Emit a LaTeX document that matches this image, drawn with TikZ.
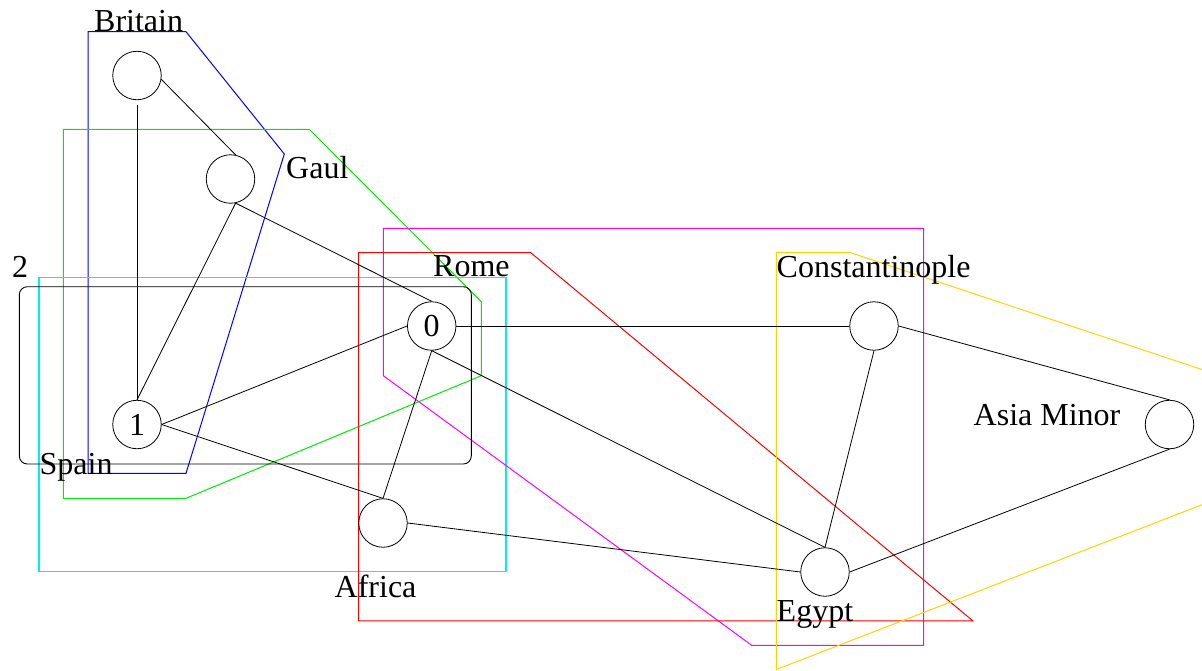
\documentclass[tikz,border=0pt]{standalone}
\usepackage{fontspec}
\setmainfont{Liberation Serif}
\definecolor{hgold}{RGB}{255,210,0}
\definecolor{hgreen}{RGB}{0,235,0}
\definecolor{hcyan}{RGB}{0,240,240}
\definecolor{hblue}{RGB}{0,0,255}
\definecolor{hred}{RGB}{255,0,0}
\definecolor{hmagenta}{RGB}{255,0,255}
\begin{document}
\begin{tikzpicture}[x=1pt,y=-1pt,
  city/.style={circle,draw,line width=0.8pt,minimum size=48.5pt,inner sep=0pt,font=\fontsize{32}{36}\selectfont},
  lbl/.style={inner sep=0pt,anchor=base west,font=\fontsize{32}{36}\selectfont},
  edge/.style={line width=0.8pt},
  hull/.style={line width=1pt}]
\useasboundingbox (0,0) rectangle (1202,670);
\clip (0,0) rectangle (1202,670);
% cluster hulls
\draw[hull,hblue] (88,31.7) -- (186,31.7) -- (284.3,154) -- (186,473.3) -- (88,473.3) -- cycle;
\draw[hull,hgreen] (63.3,129.3) -- (309.3,129.3) -- (481.3,301.7) -- (481.3,375.7) -- (186,498.3) -- (63.3,498.3) -- cycle;
\draw[hull,hcyan,line width=1.4pt] (39,277.3) rectangle (506,571.7);
\draw[hull,hmagenta] (383.3,228.3) -- (923.6,228.3) -- (923.6,645.3) -- (751.7,645.3) -- (383.3,375.7) -- cycle;
\draw[hull,hred] (358.7,252.7) -- (530.5,252.5) -- (972.8,620.8) -- (358.7,620.8) -- cycle;
\draw[hull,hgold] (776.3,252.3) -- (849.3,252.3) -- (1390,432) -- (776.3,669.5) -- cycle;
\draw[line width=0.9pt,rounded corners=8pt] (19.3,286.7) rectangle (471.3,464);
% nodes
\node[city] (britain) at (137,75.5) {};
\node[city] (gaul) at (230.5,179) {};
\node[city] (rome) at (431.7,326) {0};
\node[city] (spain) at (137,424.5) {1};
\node[city] (africa) at (383,523) {};
\node[city] (const) at (874,326) {};
\node[city] (egypt) at (825,572) {};
\node[city] (asia) at (1169.5,424.5) {};
% labels
\node[lbl] (lbritain) at (94,31) {Britain};
\node[lbl] (lgaul) at (286,178) {Gaul};
\node[lbl] (lrome) at (433,276) {Rome};
\node[lbl] (lcluster) at (12,277) {2};
\node[lbl] (lspain) at (39.5,474) {Spain};
\node[lbl] (lafrica) at (334.5,597) {Africa};
\node[lbl] (lconst) at (776.5,277) {Constantinople};
\node[lbl] (lasia) at (973.5,425) {Asia Minor};
\node[lbl] (legypt) at (776.5,621) {Egypt};
% edges
\draw[edge] (britain.-9) -- (gaul.78);
\draw[edge,shorten <=5pt] (britain.south) -- (spain.north);
\draw[edge] (gaul.-78) -- (spain.north);
\draw[edge] (gaul.-78) -- (rome.north);
\draw[edge] (rome.west) -- (spain.east);
\draw[edge] (spain.east) -- (africa.north);
\draw[edge] (rome.south) -- (africa.north);
\draw[edge] (rome.east) -- (const.west);
\draw[edge] (rome.south) -- (egypt.north);
\draw[edge] (africa.east) -- (egypt.west);
\draw[edge] (const.south) -- (egypt.north);
\draw[edge] (const.east) -- (asia.north);
\draw[edge] (egypt.east) -- (asia.south);
\end{tikzpicture}
\end{document}
